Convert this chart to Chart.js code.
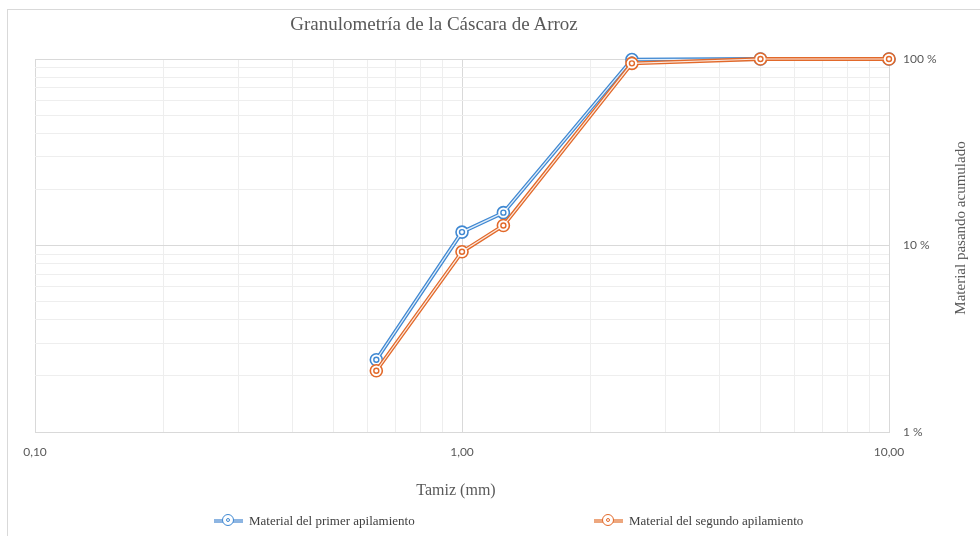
<!DOCTYPE html>
<html lang="es">
<head>
  <meta charset="UTF-8">
  <title>Granulometría de la Cáscara de Arroz</title>
  <script src="https://cdn.jsdelivr.net/npm/chart.js"></script>
  <style>
    html, body { margin: 0; padding: 0; background: #fff; overflow: hidden; }
    #wrap { position: relative; width: 980px; height: 536px; overflow: hidden; }
    #frame { position: absolute; left: 7px; top: 9px; width: 990px; height: 540px; border: 1px solid #d9d9d9; box-sizing: border-box; }
    #chart { position: absolute; left: 0; top: 0; }
    .txt { position: absolute; font-family: "Liberation Serif", "Times New Roman", serif; color: #595959; white-space: nowrap; line-height: 1; }
    #title { left: 434px; top: 14px; font-size: 19px; transform: translateX(-50%); }
    #xTitle { left: 456px; top: 482px; font-size: 16px; transform: translateX(-50%); }
    #yTitle { left: 870px; top: 220px; width: 180px; height: 16px; line-height: 16px; text-align: center; font-size: 15px; transform: rotate(-90deg); transform-origin: 90px 8px; }
    .leg { position: absolute; top: 514px; height: 14px; font-family: "Liberation Serif", serif; font-size: 13px; color: #404040; white-space: nowrap; }
    .leg .ln { position: absolute; left: 0; top: 5px; width: 29px; height: 4px; }
    .leg .mk { position: absolute; left: 8px; top: 0px; width: 10px; height: 10px; border-radius: 50%; border: 1.5px solid; background: #fff; }
    .leg .mk i { position: absolute; left: 2.5px; top: 2.5px; width: 2px; height: 2px; border-radius: 50%; border: 1.2px solid; }
    .leg span { position: absolute; left: 35px; top: 0; line-height: 14px; }
  </style>
</head>
<body>
  <div id="wrap">
    <div id="frame"></div>
    <canvas id="chart" width="980" height="536"></canvas>
    <div id="title" class="txt">Granulometría de la Cáscara de Arroz</div>
    <div id="xTitle" class="txt">Tamiz (mm)</div>
    <div id="yTitle" class="txt">Material pasando acumulado</div>
    <div id="legend"></div>
  </div>

  <script>
    // Tamiz (mm) vs % pasando acumulado
    const sieveSizes = [0.63, 1.0, 1.25, 2.5, 5.0, 10.0];
    const firstPile = [2.44, 11.8, 15.0, 99.3, 100, 100];
    const secondPile = [2.13, 9.25, 12.8, 94.8, 100, 100];

    const seriesLabels = ['Material del primer apilamiento', 'Material del segundo apilamiento'];
    const seriesColors = ['#3f88d2', '#e2692a'];
    const legendLight = ['#8db5e2', '#eda77e'];

    const xTickValues = [0.1, 0.2, 0.3, 0.4, 0.5, 0.6, 0.7, 0.8, 0.9, 1, 2, 3, 4, 5, 6, 7, 8, 9, 10];
    const xLabelValues = [0.1, 1, 10];
    const yTickValues = [1, 2, 3, 4, 5, 6, 7, 8, 9, 10, 20, 30, 40, 50, 60, 70, 80, 90, 100];
    const yLabelValues = [1, 10, 100];

    const toPoints = (vals) => sieveSizes.map((s, i) => ({ x: s, y: vals[i] }));

    // each series = coloured thick line + thin white core (double line look)
    function seriesPair(vals, idx, order) {
      const col = seriesColors[idx];
      return [
        {
          label: seriesLabels[idx], data: toPoints(vals), borderColor: col, borderWidth: 3.8,
          pointRadius: 6, pointBorderWidth: 1.6, pointBackgroundColor: '#fff', pointBorderColor: col,
          clip: false, order: order + 1, tension: 0
        },
        {
          label: '', data: toPoints(vals), borderColor: 'rgba(255,255,255,0.85)', borderWidth: 1.2,
          pointRadius: 2.5, pointBorderWidth: 1.4, pointBackgroundColor: '#fff', pointBorderColor: col,
          clip: false, order: order, tension: 0
        }
      ];
    }

    const majorGrid = (list) => (ctx) => (ctx.tick && list.includes(ctx.tick.value)) ? '#d9d9d9' : '#eeeeee';

    const ctx = document.getElementById('chart').getContext('2d');
    const chart = new Chart(ctx, {
      type: 'line',
      data: {
        datasets: [...seriesPair(firstPile, 0, 3), ...seriesPair(secondPile, 1, 1)]
      },
      options: {
        responsive: false,
        animation: false,
        devicePixelRatio: 1,
        layout: { padding: { top: 59, left: 35, right: 0, bottom: 76 } },
        plugins: { legend: { display: false }, tooltip: { enabled: false }, title: { display: false } },
        scales: {
          x: {
            type: 'logarithmic', position: 'bottom', min: 0.1, max: 10,
            afterBuildTicks: (s) => { s.ticks = xTickValues.map(v => ({ value: v })); },
            afterFit: (s) => { s.height = 28; },
            grid: { color: majorGrid(xLabelValues), drawTicks: false, lineWidth: 1 },
            border: { color: '#d9d9d9' },
            ticks: {
              autoSkip: false, maxRotation: 0, padding: 13, color: '#595959',
              font: { family: 'Lato', size: 12 },
              callback: (v) => xLabelValues.includes(v) ? v.toFixed(2).replace('.', ',') : ''
            }
          },
          y: {
            type: 'logarithmic', position: 'right', min: 1, max: 100,
            afterBuildTicks: (s) => { s.ticks = yTickValues.map(v => ({ value: v })); },
            afterFit: (s) => { s.width = 91; },
            grid: { color: majorGrid(yLabelValues), drawTicks: false, lineWidth: 1 },
            border: { color: '#d9d9d9' },
            ticks: {
              autoSkip: false, padding: 14, color: '#595959',
              font: { family: 'Lato', size: 12 },
              callback: (v) => yLabelValues.includes(v) ? v + ' %' : ''
            }
          }
        }
      }
    });

    // legend
    const legendLeft = [214, 594];
    const legend = document.getElementById('legend');
    seriesLabels.forEach((lab, i) => {
      const item = document.createElement('div');
      item.className = 'leg';
      item.style.left = legendLeft[i] + 'px';
      item.innerHTML = '<div class="ln" style="background:' + legendLight[i] + '"></div>' +
        '<div class="mk" style="border-color:' + seriesColors[i] + '"><i style="border-color:' + seriesColors[i] + '"></i></div>' +
        '<span>' + lab + '</span>';
      legend.appendChild(item);
    });
  </script>
</body>
</html>
